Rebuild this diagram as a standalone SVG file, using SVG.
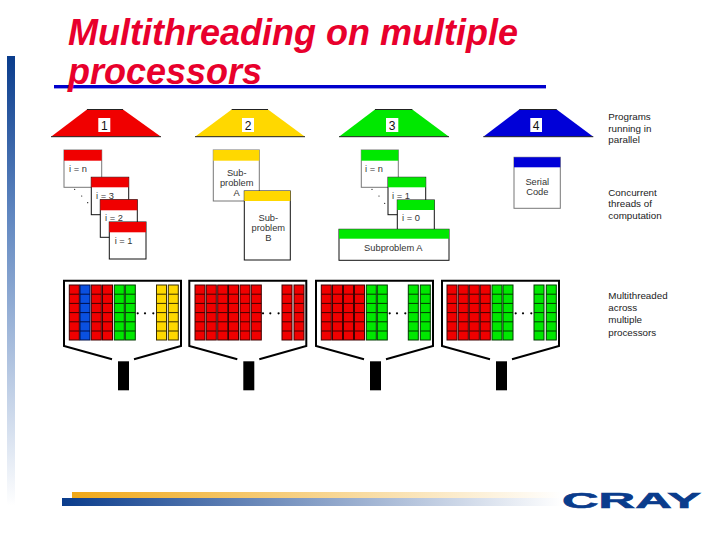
<svg xmlns="http://www.w3.org/2000/svg" xmlns:xlink="http://www.w3.org/1999/xlink" width="720" height="540" viewBox="0 0 720 540">
<style>
text{font-family:"Liberation Sans",Arial,sans-serif;fill:#222}
.title{font-size:36px;font-weight:bold;font-style:italic;fill:#e8002c}
.side{font-size:9.8px}
.t{font-size:9.3px;fill:#333}
.m{text-anchor:middle}
.num{font-size:12px;text-anchor:middle;fill:#111}
.card{fill:#fff;stroke:#111;stroke-width:1}
.soft{stroke:#777}
.lab{fill:#fff}
.edge{stroke:#222;stroke-width:1;fill:none}
.funnel{fill:none;stroke:#000;stroke-width:2}
.colr{fill:#f00000;stroke:#400000;stroke-width:1}
.colb{fill:#0a50e0;stroke:#00104a;stroke-width:1}
.colg{fill:#00e800;stroke:#003a00;stroke-width:1}
.coly{fill:#ffd800;stroke:#3a2e00;stroke-width:1}
.r{fill:#f00000}.y{fill:#ffd800}.g{fill:#00e800}.b{fill:#0000d8}
.dot{fill:#000}
</style>
<defs>
<linearGradient id="side" x1="0" y1="0" x2="0" y2="1"><stop offset="0" stop-color="#0a3c8c"/><stop offset=".35" stop-color="#5f86c0"/><stop offset="1" stop-color="#fff"/></linearGradient>
<linearGradient id="org" x1="0" y1="0" x2="1" y2="0"><stop offset="0" stop-color="#f0a818"/><stop offset="1" stop-color="#fff"/></linearGradient>
<linearGradient id="blu" x1="0" y1="0" x2="1" y2="0"><stop offset="0" stop-color="#0a3c8c"/><stop offset="1" stop-color="#fff"/></linearGradient>
<g id="col"><rect width="10" height="55"/><path d="M0 9.2H10M0 18.4H10M0 27.6H10M0 36.8H10M0 46H10"/></g>
<g id="funnel"><path class="funnel" d="M112 359.3L64 346V280.7H181V346L134 359.3"/><rect x="118" y="361.3" width="11" height="29" fill="#000"/><circle class="dot" cx="137.7" cy="313.3" r="1.1"/><circle class="dot" cx="145" cy="313.3" r="1.1"/><circle class="dot" cx="153.3" cy="313.3" r="1.1"/></g>
</defs>

<rect x="7" y="56" width="8" height="450" fill="url(#side)"/>
<rect x="54" y="85" width="492" height="3.4" fill="#0000cc"/>
<text class="title" x="68" y="45">Multithreading on multiple</text>
<text class="title" x="68" y="84">processors</text>

<g id="program-1"><polygon class="r" points="51,136.7 87,109.5 123,109.5 161,136.7"/><path class="edge" d="M87 109.5H123M51 136.7H161"/><rect class="lab" x="98.3" y="118" width="12" height="14"/><text class="num" x="104.3" y="129.5">1</text></g>
<g id="program-2"><polygon class="y" points="195,136.7 231.7,109.5 268,109.5 305,136.7"/><path class="edge" d="M231.7 109.5H268M195 136.7H305"/><rect class="lab" x="242" y="118" width="12" height="14"/><text class="num" x="248" y="129.5">2</text></g>
<g id="program-3"><polygon class="g" points="339,136.7 375,109.5 412.3,109.5 449,136.7"/><path class="edge" d="M375 109.5H412.3M339 136.7H449"/><rect class="lab" x="386" y="118" width="12.3" height="14"/><text class="num" x="392.2" y="129.5">3</text></g>
<g id="program-4"><polygon class="b" points="483.3,136.7 519.3,109.5 556.7,109.5 593.3,136.7"/><path class="edge" d="M519.3 109.5H556.7M483.3 136.7H593.3"/><rect class="lab" x="530.3" y="118" width="11.7" height="14"/><text class="num" x="536.2" y="129.5">4</text></g>

<g id="threads-1">
<g id="t1-n"><rect class="card soft" x="64" y="150" width="37.7" height="37.3"/><rect class="r" x="64" y="150" width="37.7" height="10.7"/><text class="t" x="69" y="171.7">i = n</text></g>
<g class="dots"><circle class="dot" cx="74.7" cy="189.3" r=".6"/><circle class="dot" cx="81.7" cy="196" r=".6"/><circle class="dot" cx="87.7" cy="202.7" r=".6"/></g>
<g id="t1-3"><rect class="card" x="91.3" y="177.3" width="37.4" height="37.4"/><rect class="r" x="91.3" y="177.3" width="37.4" height="10"/><text class="t" x="96" y="199">i = 3</text></g>
<g id="t1-2"><rect class="card" x="100.3" y="199.7" width="37" height="37.6"/><rect class="r" x="100.3" y="199.7" width="37" height="10.6"/><text class="t" x="105" y="221">i = 2</text></g>
<g id="t1-1"><rect class="card" x="109.3" y="222" width="36.7" height="37"/><rect class="r" x="109.3" y="222" width="36.7" height="10.3"/><text class="t" x="114.7" y="243.7">i = 1</text></g>
</g>

<g id="threads-2">
<g id="sub-a"><rect class="card soft" x="213.3" y="150" width="46" height="51"/><rect class="y" x="213.3" y="150" width="46" height="10.7"/><text class="t m" x="236.7" y="176">Sub-</text><text class="t m" x="236.7" y="186">problem</text><text class="t m" x="236.7" y="196">A</text></g>
<g id="sub-b"><rect class="card" x="244.3" y="191" width="46" height="69"/><rect class="y" x="244.3" y="191" width="46" height="10"/><text class="t m" x="268.3" y="221.3">Sub-</text><text class="t m" x="268.3" y="231.3">problem</text><text class="t m" x="268.3" y="241">B</text></g>
</g>

<g id="threads-3">
<g id="t3-n"><rect class="card soft" x="361.3" y="150" width="37" height="37.3"/><rect class="g" x="361.3" y="150" width="37" height="10.7"/><text class="t" x="365" y="171.7">i = n</text></g>
<g class="dots"><circle class="dot" cx="372" cy="189.3" r=".6"/><circle class="dot" cx="379" cy="196" r=".6"/><circle class="dot" cx="384.7" cy="203.3" r=".6"/></g>
<g id="t3-1"><rect class="card" x="388" y="177.3" width="37.7" height="37.4"/><rect class="g" x="388" y="177.3" width="37.7" height="10"/><text class="t" x="392" y="199">i = 1</text></g>
<g id="t3-0"><rect class="card" x="397.3" y="200" width="37" height="30"/><rect class="g" x="397.3" y="200" width="37" height="10"/><text class="t" x="402" y="221">i = 0</text></g>
<g id="sub-a3"><rect class="card" x="339" y="229.3" width="110" height="31"/><rect class="g" x="339" y="229.3" width="110" height="9.4"/><text class="t m" x="393.3" y="250.7">Subproblem A</text></g>
</g>

<g id="threads-4"><rect class="card soft" x="514" y="157.3" width="46.3" height="51"/><rect class="b" x="514" y="157.3" width="46.3" height="10"/><text class="t m" x="537.3" y="184.7">Serial</text><text class="t m" x="537.3" y="195">Code</text></g>

<g id="cpu-1"><use xlink:href="#funnel"/>
<use xlink:href="#col" class="colr" x="69.3" y="285"/><use xlink:href="#col" class="colb" x="80" y="285"/><use xlink:href="#col" class="colr" x="91.3" y="285"/><use xlink:href="#col" class="colr" x="102.5" y="285"/><use xlink:href="#col" class="colg" x="114.3" y="285"/><use xlink:href="#col" class="colg" x="125.3" y="285"/><use xlink:href="#col" class="coly" x="156.5" y="285"/><use xlink:href="#col" class="coly" x="168.3" y="285"/></g>
<g id="cpu-2"><use xlink:href="#funnel" x="125.3"/>
<use xlink:href="#col" class="colr" x="195" y="285"/><use xlink:href="#col" class="colr" x="206.3" y="285"/><use xlink:href="#col" class="colr" x="217.7" y="285"/><use xlink:href="#col" class="colr" x="228.5" y="285"/><use xlink:href="#col" class="colr" x="240" y="285"/><use xlink:href="#col" class="colr" x="251.3" y="285"/><use xlink:href="#col" class="colr" x="282" y="285"/><use xlink:href="#col" class="colr" x="294" y="285"/></g>
<g id="cpu-3"><use xlink:href="#funnel" x="252"/>
<use xlink:href="#col" class="colr" x="321.3" y="285"/><use xlink:href="#col" class="colr" x="332.5" y="285"/><use xlink:href="#col" class="colr" x="343.5" y="285"/><use xlink:href="#col" class="colr" x="354.5" y="285"/><use xlink:href="#col" class="colg" x="366.3" y="285"/><use xlink:href="#col" class="colg" x="377.3" y="285"/><use xlink:href="#col" class="colg" x="408.3" y="285"/><use xlink:href="#col" class="colg" x="420.3" y="285"/></g>
<g id="cpu-4"><use xlink:href="#funnel" x="378"/>
<use xlink:href="#col" class="colr" x="447" y="285"/><use xlink:href="#col" class="colr" x="458.3" y="285"/><use xlink:href="#col" class="colr" x="469.3" y="285"/><use xlink:href="#col" class="colr" x="480.3" y="285"/><use xlink:href="#col" class="colg" x="492" y="285"/><use xlink:href="#col" class="colg" x="503" y="285"/><use xlink:href="#col" class="colg" x="534" y="285"/><use xlink:href="#col" class="colg" x="546.3" y="285"/></g>

<g id="captions">
<text class="side" x="608.3" y="120">Programs</text><text class="side" x="608.3" y="131.5">running in</text><text class="side" x="608.3" y="143.3">parallel</text>
<text class="side" x="608.3" y="195.7">Concurrent</text><text class="side" x="608.3" y="207.3">threads of</text><text class="side" x="608.3" y="219.3">computation</text>
<text class="side" x="608.3" y="299.3">Multithreaded</text><text class="side" x="608.3" y="311.3">across</text><text class="side" x="608.3" y="323.3">multiple</text><text class="side" x="608.3" y="335.7">processors</text>
</g>

<g id="footer">
<rect x="72" y="492" width="490" height="6" fill="url(#org)"/>
<rect x="62" y="498" width="500" height="8" fill="url(#blu)"/>
<text x="562" y="508" font-size="22" font-weight="bold" textLength="139" lengthAdjust="spacingAndGlyphs" style="fill:#0a3c8c;stroke:#0a3c8c;stroke-width:.6">CRAY</text>
</g>
</svg>
